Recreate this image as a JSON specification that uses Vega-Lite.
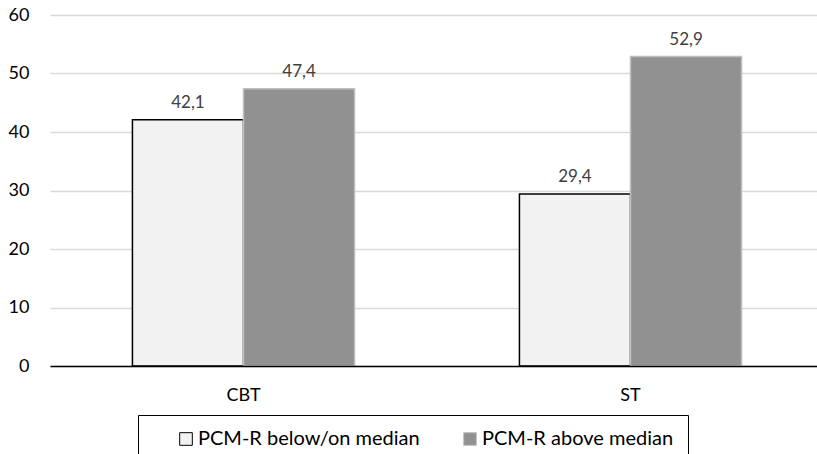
{
  "$schema": "https://vega.github.io/schema/vega-lite/v6.json",
  "width": 774,
  "height": 351,
  "autosize": "none",
  "padding": {"left": 50, "top": 15, "right": 0, "bottom": 88},
  "config": {"view": {"stroke": null}, "font": "Lato"},
  "data": {
    "values": [
      {"group": "CBT", "series": "PCM-R below/on median", "value": 42.1, "label": "42,1"},
      {"group": "CBT", "series": "PCM-R above median", "value": 47.4, "label": "47,4"},
      {"group": "ST", "series": "PCM-R below/on median", "value": 29.4, "label": "29,4"},
      {"group": "ST", "series": "PCM-R above median", "value": 52.9, "label": "52,9"}
    ]
  },
  "encoding": {
    "x": {
      "field": "group", "type": "nominal", "sort": ["CBT", "ST"],
      "scale": {"paddingInner": 0.426, "paddingOuter": 0.213},
      "axis": {"title": null, "labelAngle": 0, "labelFontSize": 18, "labelColor": "#000", "domainColor": "#000", "domainWidth": 1.5, "ticks": false, "labelPadding": 20, "zindex": 1}
    },
    "xOffset": {"field": "series", "type": "nominal", "sort": ["PCM-R below/on median", "PCM-R above median"]},
    "y": {
      "field": "value", "type": "quantitative",
      "scale": {"domain": [0, 60]},
      "axis": {"title": null, "values": [0, 10, 20, 30, 40, 50, 60], "grid": true, "gridColor": "#d9d9d9", "gridWidth": 1.5, "domain": false, "ticks": false, "labelFontSize": 18, "labelPadding": 21, "labelColor": "#000"}
    }
  },
  "layer": [
    {
      "mark": {"type": "bar", "strokeWidth": 1.5},
      "encoding": {
        "color": {
          "field": "series", "type": "nominal",
          "scale": {"domain": ["PCM-R below/on median", "PCM-R above median"], "range": ["#f2f2f2", "#919191"]},
          "legend": {"orient": "none", "legendX": 88, "legendY": 400, "direction": "horizontal", "title": null, "strokeColor": "#000", "padding": 14, "symbolOffset": 24, "symbolType": "square", "symbolSize": 160, "labelFontSize": 20, "labelLimit": 400, "columnPadding": 16, "labelColor": "#000", "symbolStrokeWidth": 1, "labelOffset": 2}
        },
        "stroke": {
          "field": "series", "type": "nominal",
          "scale": {"domain": ["PCM-R below/on median", "PCM-R above median"], "range": ["#000000", "#bfbfbf"]},
          "legend": {"orient": "none", "legendX": 88, "legendY": 400, "direction": "horizontal", "title": null, "strokeColor": "#000", "padding": 14, "symbolOffset": 24, "symbolType": "square", "symbolSize": 160, "labelFontSize": 20, "labelLimit": 400, "columnPadding": 16, "labelColor": "#000", "symbolStrokeWidth": 1, "labelOffset": 2}
        }
      }
    },
    {
      "mark": {"type": "text", "baseline": "alphabetic", "dy": -12, "fontSize": 17, "color": "#404040"},
      "encoding": {"text": {"field": "label"}}
    }
  ]
}
